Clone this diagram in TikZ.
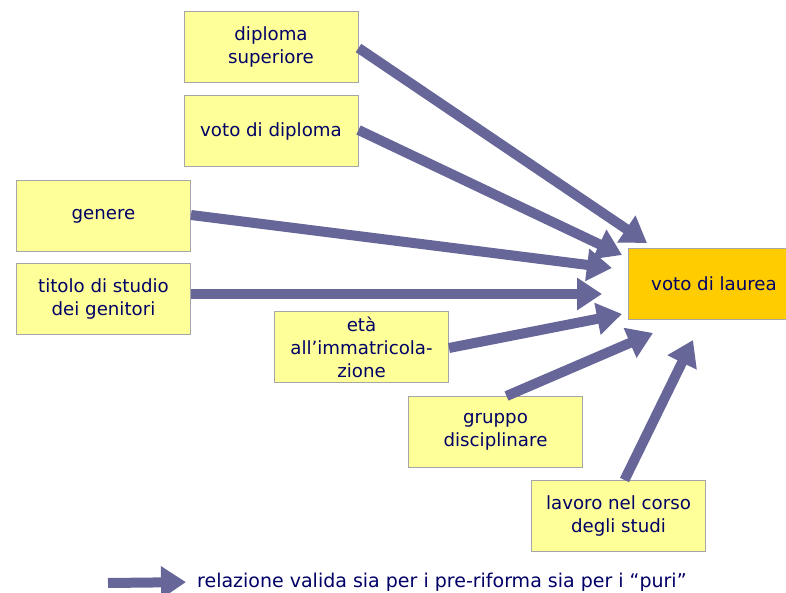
\documentclass[tikz,border=0pt]{standalone}
\usepackage{fontspec}
\setmainfont{DejaVu Sans}
\usetikzlibrary{arrows.meta}
\definecolor{boxyel}{HTML}{FFFF99}
\definecolor{laurea}{HTML}{FFCC00}
\definecolor{freccia}{HTML}{666699}
\definecolor{testo}{HTML}{000066}
\tikzstyle{fattore}=[rectangle,draw=black!35,fill=boxyel,line width=1pt,minimum width=174pt,minimum height=71pt,align=center,text=testo,font=\fontsize{18.2}{23}\selectfont]
\tikzstyle{esito}=[fattore,fill=laurea,minimum width=172pt,minimum height=70pt]
\tikzstyle{infl}=[-{Triangle[length=25pt,width=31pt]}, line width=10pt, draw=freccia]

\begin{document}
\begin{tikzpicture}[x=1pt,y=-1pt]
\useasboundingbox (0,0) rectangle (786,593);
\node[fattore] (DS) at (271,47) {diploma\\superiore};
\node[fattore] (VD) at (271,131) {voto di diploma};
\node[fattore] (GE) at (103.5,216.5) {genere};
\node[fattore] (TS) at (103.5,299) {titolo di studio\\dei genitori};
\node[fattore] (EI) at (361.5,347) {età\\all’immatricola-\\zione};
\node[fattore] (GD) at (495.5,432) {gruppo\\disciplinare};
\node[fattore] (LC) at (618.5,516) {lavoro nel corso\\degli studi};
\node[esito] (VL) at (714,284) {voto di laurea};
% punte delle frecce
\coordinate (p1) at (647,243);\coordinate (p2) at (622,255);
\coordinate (p3) at (612,268);\coordinate (p4) at (602,294);
\coordinate (p5) at (622,314);\coordinate (p6) at (653,333);
\coordinate (p7) at (693,340);
\draw[infl] ([yshift=-1pt]DS.east)--(p1);\draw[infl] ([yshift=1pt]VD.east)--(p2);
\draw[infl] ([yshift=1.5pt]GE.east)--(p3);\draw[infl] ([yshift=5pt]TS.east)--(p4);
\draw[infl] ([yshift=-1pt]EI.east)--(p5);
\draw[infl] ([xshift=11pt]GD.north)--(p6);\draw[infl] ([xshift=6pt]LC.north)--(p7);
% legenda
\coordinate (lg) at (108,583);
\node[anchor=west,inner sep=0pt,text=testo,font=\fontsize{19}{23}\selectfont] (LEG) at (197,582) {relazione valida sia per i pre-riforma sia per i “puri”};
\draw[infl,shorten >=11pt] (lg)--(LEG.west);
\end{tikzpicture}
\end{document}
